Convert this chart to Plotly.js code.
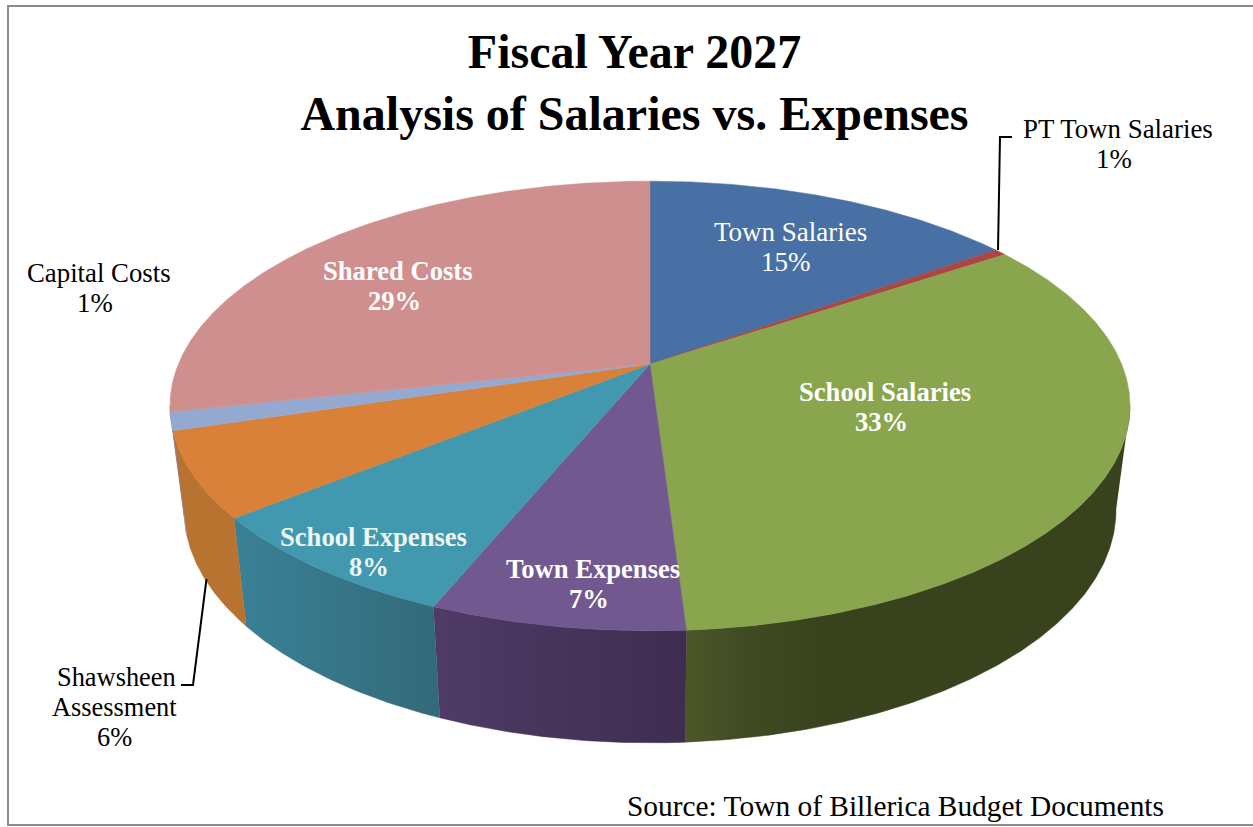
<!DOCTYPE html>
<html>
<head>
<meta charset="utf-8">
<script src="https://cdn.plot.ly/plotly-3.0.1.min.js"></script>
<style>html,body{margin:0;padding:0;background:#fff}#chart{width:1253px;height:827px}</style>
</head>
<body>
<div id="chart"></div>
<script>
// Data
const categories = ["Town Salaries","PT Town Salaries","School Salaries","Town Expenses","School Expenses","Shawsheen Assessment","Capital Costs","Shared Costs"];
const shares     = [15.1, 0.5, 33.4, 7.2, 8.0, 6.1, 1.3, 28.4];
const topColors  = ["#4870a4","#aa4643","#89a54e","#71588f","#4198af","#d98139","#93a9cf","#cf8f8e"];
const wallScales = [
  [[0,"#2c4568"],[1,"#2c4568"]],
  [[0,"#6b2c2a"],[1,"#6b2c2a"]],
  [[0,"#4c5728"],[0.12,"#414c24"],[0.3,"#38421d"],[1,"#38421d"]],
  [[0,"#4f3b66"],[1,"#3e2d50"]],
  [[0,"#3a8197"],[1,"#336a79"]],
  [[0,"#b7732f"],[1,"#b7732f"]],
  [[0,"#8496b8"],[1,"#8496b8"]],
  [[0,"#9a7a84"],[1,"#9a7a84"]]
];

// Projection of the tilted pie (pixel-valued axes)
const view = {cx:650, cy:364, A:471.6, B:217, k:0.1867,
              ex:650, ey:406, wallEy:510, wallSx:466/480, wallSy:233/225};
function rim(p){
  const t = p/100*2*Math.PI, u = Math.sin(t), v = -Math.cos(t), d = 1 - view.k*v;
  return [view.cx + view.A*u/d, view.cy + view.B*v/d];
}
function wallRim(pt){
  return [view.ex + (pt[0]-view.ex)*view.wallSx, view.wallEy + (pt[1]-view.ey)*view.wallSy];
}
function arc(p0,p1){
  const n = Math.max(2, Math.ceil((p1-p0)/0.1)), out = [];
  for(let i=0;i<=n;i++) out.push(rim(p0+(p1-p0)*i/n));
  return out;
}

const walls = [], tops = [];
let start = 0;
categories.forEach((name,i)=>{
  const end = start + shares[i], pts = arc(start,end);
  // only the near half of the rim has a visible side wall
  const near = pts.filter(q=>q[1]>=view.ey);
  if(near.length>1){
    const w = near.concat(near.map(wallRim).reverse());
    walls.push({type:"scatter",mode:"lines",name:name+" side",x:w.map(q=>q[0]),y:w.map(q=>q[1]),
      fill:"toself",line:{width:0.5,color:wallScales[i][wallScales[i].length-1][1]},
      fillgradient:{type:"horizontal",colorscale:wallScales[i]},
      hoverinfo:"skip",showlegend:false});
  }
  const t = [[view.cx,view.cy]].concat(pts,[[view.cx,view.cy]]);
  tops.push({type:"scatter",mode:"lines",name:name,x:t.map(q=>q[0]),y:t.map(q=>q[1]),
    fill:"toself",line:{width:0.5,color:topColors[i]},fillcolor:topColors[i],
    hoverinfo:"name",showlegend:false});
  start = end;
});

const serif = "Liberation Serif, Times New Roman, serif";
function label(lines,x,y,opts){
  opts = opts||{};
  const shift = opts.pctShift===undefined ? -4 : opts.pctShift;
  return lines.map((s,i)=>({xref:"x",yref:"y",x:x+(s.endsWith("%")?shift:0),y:y+i*30,
    text:opts.bold?"<b>"+s+"</b>":s,showarrow:false,xanchor:"center",yanchor:"middle",
    font:{family:serif,size:opts.size||26.6,color:opts.color||"#000000"}}));
}
const annotations = [].concat(
  label(["Town Salaries","15%"],790,232,{color:"#ffffff",size:27}),
  label(["PT Town Salaries","1%"],1118,129,{size:26.9}),
  label(["School Salaries","33%"],885,392,{color:"#ffffff",bold:true}),
  label(["Town Expenses","7%"],593,569,{color:"#ffffff",bold:true}),
  label(["School Expenses","8%"],373,537,{color:"#eef6f4",bold:true}),
  label(["Shawsheen"],116.5,677,{size:26.4}),
  label(["Assessment","6%"],114,707,{size:26.4,pctShift:0}),
  label(["Capital Costs","1%"],99,273,{size:26.8}),
  label(["Shared Costs","29%"],398,271,{color:"#ffffff",bold:true}),
  label(["Source: Town of Billerica Budget Documents"],895,806,{size:29.4})
);

const layout = {
  width:1253,height:827,margin:{l:0,r:0,t:0,b:0},
  paper_bgcolor:"#ffffff",plot_bgcolor:"#ffffff",showlegend:false,
  title:{text:"<b>Fiscal Year 2027<br>Analysis of Salaries vs. Expenses</b>",
         font:{family:serif,size:48,color:"#000000"},
         x:634.5/1253,xanchor:"center",y:1-67.5/827,yanchor:"middle"},
  xaxis:{range:[0,1253],visible:false,fixedrange:true},
  yaxis:{range:[827,0],visible:false,fixedrange:true},
  annotations:annotations,
  shapes:[
    {type:"rect",xref:"x",yref:"y",x0:8,y0:6,x1:1262,y1:825,line:{color:"#8c8c8c",width:2},layer:"below"},
    {type:"path",xref:"x",yref:"y",path:"M998,250 L1000,137 L1012,137",line:{color:"#000000",width:2}},
    {type:"path",xref:"x",yref:"y",path:"M206.5,579 L193,685 L181,685",line:{color:"#000000",width:2}}
  ]
};
Plotly.newPlot("chart",walls.concat(tops),layout,{displayModeBar:false,staticPlot:true});
</script>
</body>
</html>
